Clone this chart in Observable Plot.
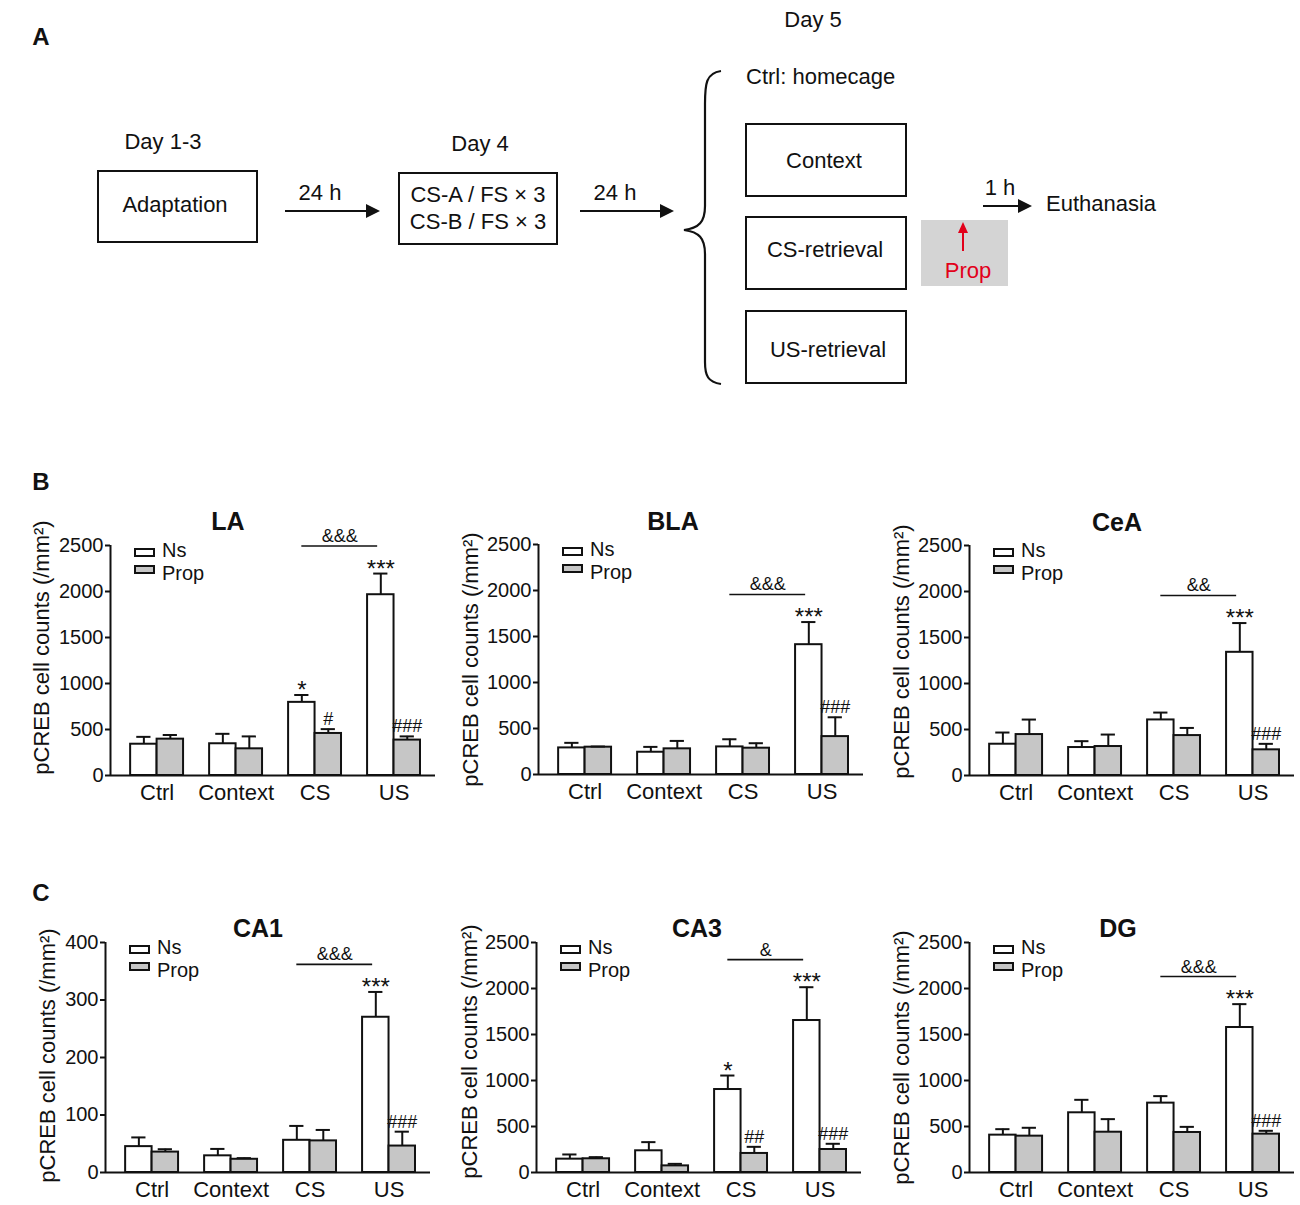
<!DOCTYPE html>
<html>
<head>
<meta charset="utf-8">
<script src="https://cdn.jsdelivr.net/npm/d3@7"></script>
<script src="https://cdn.jsdelivr.net/npm/@observablehq/plot@0.6"></script>
<style>
  body { margin: 0; background: #fff; }
  #fig { position: relative; width: 1300px; height: 1205px; overflow: hidden; background: #fff;
         font-family: "Liberation Sans", Arial, sans-serif; color: #111; }
  .abs { position: absolute; white-space: nowrap; line-height: 0.9; }
  .c { transform: translate(-50%, -50%); }
  .l { transform: translate(0, -50%); }
  .box { position: absolute; box-sizing: border-box; border: 2px solid #111; background: #fff; }
  .leg { position: absolute; white-space: nowrap; font-size: 20px; line-height: 23px; }
</style>
</head>
<body>
<div id="fig"></div>
<script>
// ---------------- data ----------------
const groups = ["Ctrl", "Context", "CS", "US"];
const series = ["Ns", "Prop"];
const yLabel = "pCREB cell counts (/mm²)";

const laNs = [340, 345, 795, 1965];
const laNsErr = [80, 108, 80, 230];
const laProp = [395, 290, 457, 385];
const laPropErr = [45, 135, 47, 40];
const laNsSig = ["", "", "*", "***"];
const laPropSig = ["", "", "#", "###"];

const blaNs = [289, 242, 300, 1411];
const blaNsErr = [55, 58, 83, 246];
const blaProp = [297, 279, 286, 412];
const blaPropErr = [7, 86, 54, 210];
const blaNsSig = ["", "", "", "***"];
const blaPropSig = ["", "", "", "###"];

const ceaNs = [340, 304, 604, 1339];
const ceaNsErr = [127, 69, 80, 318];
const ceaProp = [445, 315, 434, 279];
const ceaPropErr = [163, 130, 83, 65];
const ceaNsSig = ["", "", "", "***"];
const ceaPropSig = ["", "", "", "###"];

const ca1Ns = [45, 29, 56, 270];
const ca1NsErr = [16, 12, 25, 44];
const ca1Prop = [35.5, 23, 55, 46];
const ca1PropErr = [5, 2, 19, 25];
const ca1NsSig = ["", "", "", "***"];
const ca1PropSig = ["", "", "", "###"];

const ca3Ns = [145, 236, 902, 1652];
const ca3NsErr = [51, 94, 152, 362];
const ca3Prop = [149, 72, 207, 250];
const ca3PropErr = [18, 22, 72, 62];
const ca3NsSig = ["", "", "*", "***"];
const ca3PropSig = ["", "", "##", "###"];

const dgNs = [406, 649, 754, 1576];
const dgNsErr = [65, 141, 76, 254];
const dgProp = [395, 438, 435, 417];
const dgPropErr = [91, 142, 61, 36];
const dgNsSig = ["", "", "", "***"];
const dgPropSig = ["", "", "", "###"];

const ampSig = ["&&&", "&&&", "&&", "&&&", "&", "&&&"];
const regions = ["LA", "BLA", "CeA", "CA1", "CA3", "DG"];
const ticks2500 = [0, 500, 1000, 1500, 2000, 2500];
const ticks400 = [0, 100, 200, 300, 400];

// ---------------- helpers ----------------
const fig = document.getElementById("fig");
function txt(s, x, y, opts = {}) {
  const d = document.createElement("div");
  d.className = "abs " + (opts.anchor || "c");
  d.textContent = s;
  d.style.left = x + "px";
  d.style.top = y + "px";
  d.style.fontSize = (opts.size || 22) + "px";
  if (opts.bold) d.style.fontWeight = "bold";
  if (opts.color) d.style.color = opts.color;
  fig.appendChild(d);
  return d;
}
function box(x, y, w, h, bg) {
  const d = document.createElement("div");
  d.className = "box";
  d.style.left = x + "px"; d.style.top = y + "px";
  d.style.width = w + "px"; d.style.height = h + "px";
  if (bg) d.style.background = bg;
  fig.appendChild(d);
  return d;
}

// ---------------- panel A (diagram) ----------------
txt("A", 41, 37, {size: 24, bold: true});
txt("Day 1-3", 163, 142);
box(97, 170, 161, 73);
txt("Adaptation", 175, 205);
txt("24 h", 320, 193);
txt("Day 4", 480, 144);
box(398, 172, 160, 73);
txt("CS-A / FS × 3", 478, 195);
txt("CS-B / FS × 3", 478, 222);
txt("24 h", 615, 193);
txt("Day 5", 813, 20);
txt("Ctrl: homecage", 746, 77, {anchor: "l"});
box(745, 123, 162, 74);
txt("Context", 824, 161);
box(745, 216, 162, 74);
txt("CS-retrieval", 825, 250);
box(745, 310, 162, 74);
txt("US-retrieval", 828, 350);
const gray = document.createElement("div");
gray.className = "abs";
Object.assign(gray.style, {left: "921px", top: "220px", width: "87px", height: "66px", background: "#d4d4d4"});
fig.appendChild(gray);
txt("Prop", 968, 271, {color: "#e2001a"});
txt("1 h", 1000, 188);
txt("Euthanasia", 1046, 204, {anchor: "l"});

const ns = "http://www.w3.org/2000/svg";
const svgA = document.createElementNS(ns, "svg");
svgA.setAttribute("width", 1300); svgA.setAttribute("height", 400);
svgA.style.position = "absolute"; svgA.style.left = "0"; svgA.style.top = "0";
svgA.innerHTML = `
  <g stroke="#111" stroke-width="2.2" fill="none">
    <line x1="285" y1="211" x2="368" y2="211"/>
    <line x1="580" y1="211" x2="662" y2="211"/>
    <line x1="983" y1="206" x2="1020" y2="206"/>
    <path d="M721,71 C706,73 705,84 705,104 L705,206 C705,222 699,228 684,230 C699,232 705,238 705,254 L705,362 C705,376 708,382 721,384"/>
  </g>
  <g fill="#111">
    <polygon points="366,204 380,211 366,218"/>
    <polygon points="660,204 674,211 660,218"/>
    <polygon points="1018,199 1032,206 1018,213"/>
  </g>
  <line x1="963" y1="251" x2="963" y2="231" stroke="#e2001a" stroke-width="2"/>
  <polygon points="958,233 963,222 968,233" fill="#e2001a"/>`;
fig.appendChild(svgA);

// ---------------- panels B, C (bar charts) ----------------
txt("B", 41, 482, {size: 24, bold: true});
txt("C", 41, 893, {size: 24, bold: true});

const dataSets = [
  [laNs, laNsErr, laProp, laPropErr, laNsSig, laPropSig],
  [blaNs, blaNsErr, blaProp, blaPropErr, blaNsSig, blaPropSig],
  [ceaNs, ceaNsErr, ceaProp, ceaPropErr, ceaNsSig, ceaPropSig],
  [ca1Ns, ca1NsErr, ca1Prop, ca1PropErr, ca1NsSig, ca1PropSig],
  [ca3Ns, ca3NsErr, ca3Prop, ca3PropErr, ca3NsSig, ca3PropSig],
  [dgNs, dgNsErr, dgProp, dgPropErr, dgNsSig, dgPropSig]
];
// layout per chart (ylabel offsets: lx horizontal, ly vertical, in px from frame-left-middle)
const layout = [
  {left: 0,   top: 500, ml: 110, tx: 228,  ty: 521, lx: -69, ly: -13, ymax: 2500, ticks: ticks2500},
  {left: 430, top: 499, ml: 108, tx: 673,  ty: 521, lx: -68, ly: 0,   ymax: 2500, ticks: ticks2500},
  {left: 860, top: 500, ml: 109, tx: 1117, ty: 522, lx: -68, ly: -9,  ymax: 2500, ticks: ticks2500},
  {left: 0,   top: 897, ml: 105, tx: 258,  ty: 928, lx: -58, ly: -2,  ymax: 400,  ticks: ticks400},
  {left: 430, top: 897, ml: 106, tx: 697,  ty: 928, lx: -67, ly: -6,  ymax: 2500, ticks: ticks2500},
  {left: 860, top: 897, ml: 109, tx: 1118, ty: 928, lx: -68, ly: 0,   ymax: 2500, ticks: ticks2500}
];

const W = 0.335;          // bar width in group units
const CAP = 0.09;         // half-width of error caps
const xDomain = [-0.59, 3.525];
const PROP_FILL = "#c6c6c6";
const FONT = "'Liberation Sans', Arial, sans-serif";

regions.forEach((region, k) => {
  const [nsV, nsE, prV, prE, nsS, prS] = dataSets[k];
  const L = layout[k];
  const rows = [];
  groups.forEach((g, i) => {
    rows.push({group: g, series: series[0], x1: i - W, x2: i, cx: i - W / 2, value: nsV[i], err: nsE[i], sig: nsS[i]});
    rows.push({group: g, series: series[1], x1: i, x2: i + W, cx: i + W / 2, value: prV[i], err: prE[i], sig: prS[i]});
  });
  const nsRows = rows.filter(d => d.series === "Ns");
  const prRows = rows.filter(d => d.series === "Prop");
  const csNs = nsRows[2], usNs = nsRows[3];
  const bracket = [{x1: csNs.cx, x2: usNs.cx - 0.04, y: usNs.value + usNs.err + 0.12 * L.ymax, text: ampSig[k]}];
  const starRows = rows.filter(d => d.sig && d.sig.includes("*"));
  const hashRows = rows.filter(d => d.sig && d.sig.includes("#"));

  const width = L.ml + 325 + 5;
  const chart = Plot.plot({
    width, height: 315,
    marginLeft: L.ml, marginRight: 5, marginTop: 45, marginBottom: 40,
    style: {fontFamily: FONT, fontSize: "20px", color: "#111", background: "transparent", maxWidth: "none", overflow: "visible"},
    x: {domain: xDomain, label: null},
    y: {domain: [0, L.ymax], label: null},
    marks: [
      Plot.rect(nsRows, {x1: "x1", x2: "x2", y1: 0, y2: "value", fill: "white", stroke: "#111", strokeWidth: 2}),
      Plot.rect(prRows, {x1: "x1", x2: "x2", y1: 0, y2: "value", fill: PROP_FILL, stroke: "#111", strokeWidth: 2}),
      Plot.ruleX(rows, {x: "cx", y1: "value", y2: d => d.value + d.err, stroke: "#111", strokeWidth: 2}),
      Plot.ruleY(rows, {x1: d => d.cx - CAP, x2: d => d.cx + CAP, y: d => d.value + d.err, stroke: "#111", strokeWidth: 2}),
      Plot.text(starRows, {x: "cx", y: d => d.value + d.err, text: "sig", lineAnchor: "bottom", dy: 3, fontSize: 24, fill: "#111"}),
      Plot.text(hashRows, {x: "cx", y: d => d.value + d.err, text: "sig", lineAnchor: "bottom", dy: -4, fontSize: 18, fill: "#111"}),
      Plot.ruleY(bracket, {x1: "x1", x2: "x2", y: "y", stroke: "#111", strokeWidth: 1.6}),
      Plot.text(bracket, {x: d => (d.x1 + d.x2) / 2, y: "y", text: "text", lineAnchor: "bottom", dy: -4, fontSize: 18, fill: "#111"}),
      Plot.ruleY([0], {stroke: "#111", strokeWidth: 2}),
      Plot.ruleX([xDomain[0]], {y1: 0, y2: L.ymax, stroke: "#111", strokeWidth: 2}),
      Plot.axisY({ticks: L.ticks, tickFormat: d => String(d), tickSize: 5, tickPadding: 2, strokeWidth: 2, fontSize: 20, label: null}),
      Plot.axisX({ticks: groups.map((g, i) => i), tickFormat: i => groups[i], tickSize: 0, tickPadding: 9, fontSize: 22, label: null}),
      Plot.text([yLabel], {frameAnchor: "left", textAnchor: "middle", rotate: -90, dx: L.lx, dy: L.ly, fontSize: 22, fill: "#111"})
    ]
  });
  const wrap = document.createElement("div");
  wrap.className = "abs";
  wrap.style.left = L.left + "px";
  wrap.style.top = L.top + "px";
  wrap.style.width = width + "px";
  wrap.style.height = "315px";
  wrap.appendChild(chart);
  fig.appendChild(wrap);

  // title
  txt(region, L.tx, L.ty, {size: 25, bold: true});
  // legend: swatches + one two-line text block
  const bx = L.left + L.ml + 24, by = L.top + 48;
  box(bx, by, 21, 9, "#fff");
  box(bx, by + 17, 21, 9, PROP_FILL);
  const leg = document.createElement("div");
  leg.className = "leg";
  leg.style.left = (bx + 28) + "px";
  leg.style.top = (by - 9) + "px";
  leg.innerHTML = series.join("<br>");
  fig.appendChild(leg);
});
</script>
</body>
</html>
